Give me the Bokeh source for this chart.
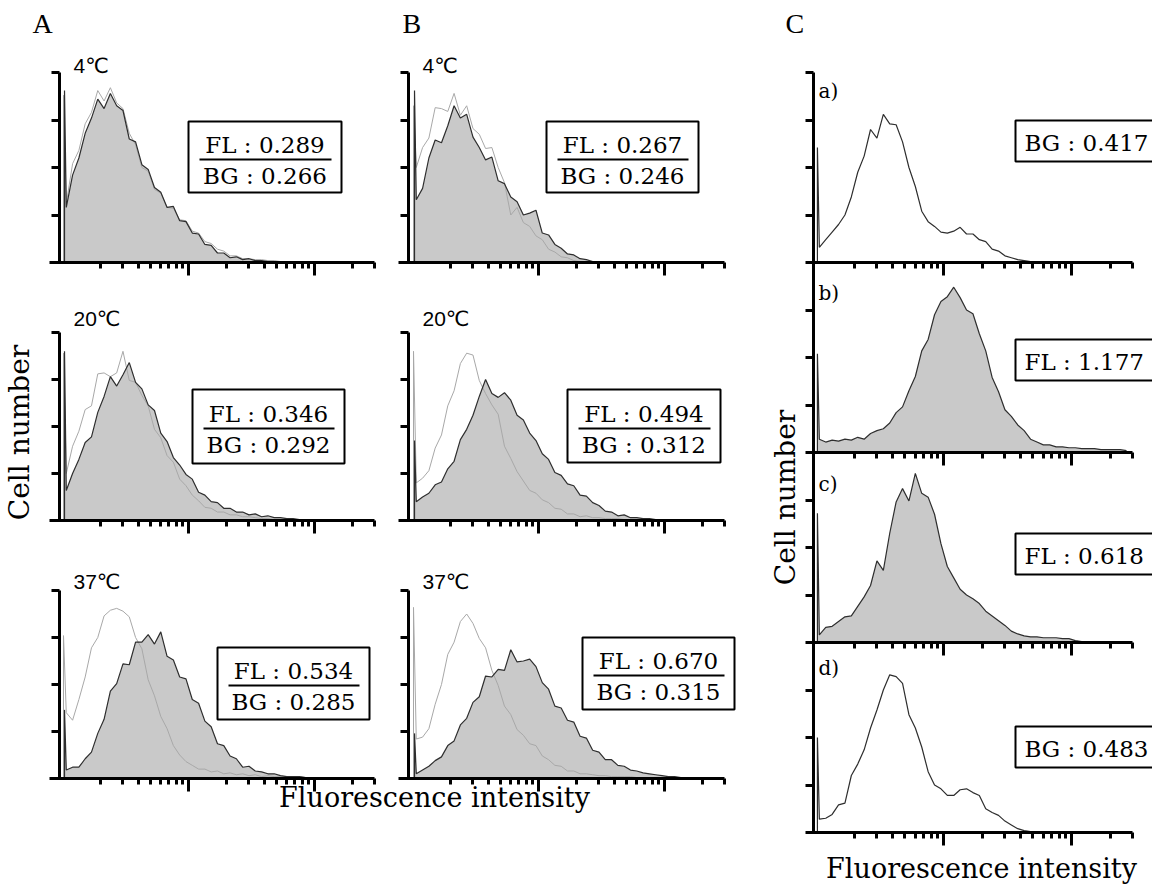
import numpy as np
from bokeh.plotting import figure
from bokeh.models import (Range1d, LinearAxis, LogAxis, FixedTicker, Label,
                          BoxAnnotation, LogScale)
from bokeh.embed import file_html
from bokeh.resources import INLINE

# ---------------- data ----------------
# channel grid: log10 of fluorescence intensity (decades)
LOG_FL = [0.03, 0.08, 0.13, 0.18, 0.23, 0.28, 0.33, 0.38, 0.43, 0.48,
          0.53, 0.58, 0.63, 0.68, 0.73, 0.78, 0.83, 0.88, 0.93, 0.98,
          1.03, 1.08, 1.13, 1.18, 1.23, 1.28, 1.33, 1.38, 1.43, 1.48,
          1.53, 1.58, 1.63, 1.68, 1.73, 1.78, 1.83, 1.88, 1.93, 1.98,
          2.03, 2.08, 2.13, 2.18, 2.23, 2.28, 2.33, 2.38, 2.43]
SPIKE_LOG_FL = 0.012   # first channel (debris spike)

# column A
A4_FL = [58, 92, 110, 136, 152, 172, 162, 178, 165, 160,
         130, 127, 103, 98, 79, 74, 58, 59, 44, 43,
         31, 30, 19, 18, 10, 10, 5, 6, 3, 4,
         2, 2, 1, 1, 0, 0, 0, 0, 0, 0,
         0, 0, 0, 0, 0, 0, 0, 0, 0]
A4_BG = [62, 104, 118, 146, 158, 181, 170, 184, 168, 162,
         136, 124, 100, 96, 77, 73, 58, 57, 45, 44,
         33, 31, 22, 20, 14, 12, 7, 7, 4, 4,
         3, 3, 2, 2, 1, 1, 0, 0, 0, 0,
         0, 0, 0, 0, 0, 0, 0, 0, 0]
A20_FL = [32, 50, 65, 83, 89, 115, 132, 153, 143, 155,
          168, 147, 140, 123, 117, 93, 84, 67, 59, 49,
          44, 30, 27, 20, 19, 13, 13, 9, 9, 6,
          7, 4, 5, 3, 3, 2, 2, 1, 1, 0,
          0, 0, 0, 0, 0, 0, 0, 0, 0]
A20_BG = [50, 79, 95, 118, 122, 156, 157, 153, 157, 180,
          149, 147, 133, 122, 97, 88, 69, 62, 44, 37,
          27, 21, 14, 13, 9, 9, 6, 6, 4, 4,
          3, 2, 2, 1, 1, 0, 0, 0, 0, 0,
          0, 0, 0, 0, 0, 0, 0, 0, 0]
A37_FL = [9, 12, 12, 21, 28, 48, 63, 93, 101, 122,
          121, 145, 145, 153, 143, 156, 130, 126, 108, 106,
          84, 80, 61, 55, 37, 35, 24, 21, 12, 13,
          8, 7, 5, 5, 3, 2, 2, 2, 1, 1,
          1, 0, 0, 0, 0, 0, 0, 0, 0]
A37_BG = [70, 62, 84, 108, 139, 150, 173, 179, 181, 178,
          172, 150, 138, 105, 88, 66, 53, 35, 25, 18,
          14, 10, 10, 7, 8, 5, 6, 4, 5, 3,
          4, 2, 3, 2, 2, 1, 2, 2, 1, 1,
          1, 1, 1, 1, 1, 1, 0, 0, 0]
# column B
B4_FL = [66, 78, 110, 129, 126, 144, 165, 152, 156, 132,
         121, 108, 111, 86, 83, 69, 64, 50, 52, 55,
         31, 29, 19, 15, 9, 8, 4, 3, 1, 1,
         0, 0, 0, 0, 0, 0, 0, 0, 0, 0,
         0, 0, 0, 0, 0, 0, 0, 0, 0]
B4_BG = [100, 121, 131, 163, 162, 159, 178, 155, 165, 141,
         135, 120, 121, 100, 84, 50, 58, 42, 38, 28,
         24, 14, 11, 6, 5, 2, 1, 0, 0, 0,
         0, 0, 0, 0, 0, 0, 0, 0, 0, 0,
         0, 0, 0, 0, 0, 0, 0, 0, 0]
B20_FL = [20, 25, 29, 38, 41, 55, 63, 86, 97, 112,
          132, 150, 135, 131, 136, 128, 112, 107, 93, 85,
          71, 65, 51, 48, 39, 37, 27, 26, 19, 16,
          10, 9, 5, 6, 3, 3, 2, 2, 1, 0,
          0, 0, 0, 0, 0, 0, 0, 0, 0]
B20_BG = [40, 45, 53, 77, 91, 122, 138, 167, 178, 176,
          149, 135, 123, 113, 79, 66, 52, 42, 32, 29,
          22, 19, 13, 12, 7, 7, 4, 5, 3, 3,
          2, 2, 2, 1, 1, 0, 0, 0, 0, 0,
          0, 0, 0, 0, 0, 0, 0, 0, 0]
B37_FL = [5, 9, 13, 19, 23, 35, 40, 57, 64, 81,
          87, 109, 108, 116, 115, 137, 124, 125, 127, 119,
          102, 95, 77, 75, 62, 60, 45, 43, 30, 28,
          20, 20, 14, 13, 9, 8, 6, 5, 4, 3,
          2, 2, 1, 0, 0, 0, 0, 0, 0]
B37_BG = [42, 44, 53, 79, 100, 132, 145, 167, 175, 165,
          149, 139, 115, 99, 77, 68, 52, 46, 37, 35,
          24, 20, 14, 13, 8, 8, 5, 5, 4, 3,
          3, 2, 2, 2, 2, 1, 1, 1, 0, 0,
          0, 0, 0, 0, 0, 0, 0, 0, 0]
# first-channel spikes (FL, BG)
SPIKES_A = [(181, 176), (180, 178), (73, 152)]
SPIKES_B = [(181, 165), (85, 180), (48, 182)]
TEMPS = ["4℃", "20℃", "37℃"]
RATIOS_A = [("FL : 0.289", "BG : 0.266"), ("FL : 0.346", "BG : 0.292"), ("FL : 0.534", "BG : 0.285")]
RATIOS_B = [("FL : 0.267", "BG : 0.246"), ("FL : 0.494", "BG : 0.312"), ("FL : 0.670", "BG : 0.315")]

# column C
C_A = [16, 24, 32, 40, 50, 69, 95, 112, 140, 131,
       156, 146, 145, 127, 100, 80, 54, 43, 38, 32,
       31, 33, 37, 30, 30, 24, 22, 14, 12, 7,
       5, 3, 2, 1, 1, 0, 0, 0, 0, 0,
       0, 0, 0, 0, 0, 0, 0, 0, 0]
C_B = [14, 11, 13, 12, 14, 13, 16, 14, 20, 23,
       25, 31, 42, 48, 65, 80, 107, 119, 145, 159,
       164, 174, 163, 150, 146, 125, 107, 79, 64, 45,
       38, 29, 23, 14, 11, 8, 8, 6, 6, 5,
       5, 4, 4, 4, 3, 3, 3, 3, 2]
C_C = [8, 16, 17, 22, 27, 28, 38, 48, 60, 86,
       76, 115, 148, 162, 149, 178, 157, 153, 135, 104,
       80, 68, 56, 50, 46, 41, 33, 28, 23, 18,
       12, 9, 7, 6, 6, 5, 5, 5, 4, 4,
       2, 1, 0, 0, 0, 0, 0, 0, 0]
C_D = [14, 15, 19, 29, 31, 60, 72, 87, 110, 129,
       150, 166, 164, 157, 124, 110, 90, 64, 50, 46,
       39, 39, 45, 46, 42, 39, 25, 21, 18, 12,
       8, 4, 2, 1, 0, 0, 0, 0, 0, 0,
       0, 0, 0, 0, 0, 0, 0, 0, 0]
C_SPIKES = [121, 104, 136, 100]
C_TAGS = ["a)", "b)", "c)", "d)"]
C_TEXT = ["BG : 0.417", "FL : 1.177", "FL : 0.618", "BG : 0.483"]
C_FILLED = [False, True, True, False]

X_MAJOR = [10, 100]
X_MINOR = [2, 3, 4, 5, 6, 7, 8, 9, 20, 30, 40, 50, 60, 70, 80, 90, 200, 300]
Y_TICKS = [0, 50, 100, 150, 200]

# ---------------- style / layout ----------------
FILL = "#c9c9c9"
DARK = "#2e2e2e"
LIGHT = "#a8a8a8"
SERIF = "DejaVu Serif"
TIMES = "Liberation Serif"
SANS = "Liberation Sans, DejaVu Sans, sans-serif"

W, H = 1152, 884
# pixel position of 10^0, pixels per decade, axis extent (log10) and y-axis location (log10)
COLS = {"A": (62, 126, -0.103, 2.48, -0.024),
        "B": (412, 126, -0.111, 2.48, -0.032),
        "C": (815, 128, -0.070, 2.48, -0.016)}
# baseline pixel row, top pixel row (count 200)
ROWS = {"r0": (262, 72), "r1": (520, 332), "r2": (778, 590),
        "ca": (262, 72), "cb": (452, 262), "cc": (642, 452), "cd": (832, 642)}

p = figure(width=W, height=H, x_range=Range1d(0, W), y_range=Range1d(0, H),
           min_border_left=0, min_border_right=0, min_border_top=0, min_border_bottom=0,
           x_axis_location=None, y_axis_location=None,
           output_backend="svg", toolbar_location=None)
p.grid.visible = False
p.outline_line_color = None

p.extra_x_ranges = {k: Range1d(10 ** (-o / d), 10 ** ((W - o) / d)) for k, (o, d, *_r) in COLS.items()}
p.extra_x_scales = {k: LogScale() for k in COLS}
p.extra_y_ranges = {k: Range1d((yb - H) * 200 / (yb - yt), yb * 200 / (yb - yt))
                    for k, (yb, yt) in ROWS.items()}


def curve(counts, spike, spike_log=SPIKE_LOG_FL):
    x = 10 ** np.array([spike_log, spike_log] + LOG_FL)
    y = np.array([0, spike] + list(counts), dtype=float)
    return x, y


def add_x_axis(col, rname):
    o, d, xs, xe, yl = COLS[col]
    ax = LogAxis(x_range_name=col, y_range_name=rname, fixed_location=0,
                 bounds=(10 ** xs, 10 ** xe),
                 ticker=FixedTicker(ticks=X_MAJOR, minor_ticks=X_MINOR))
    ax.major_label_overrides = {t: "" for t in X_MAJOR}
    ax.axis_line_width = 3
    ax.axis_line_color = "black"
    ax.major_tick_line_width = 3
    ax.major_tick_out = 13
    ax.major_tick_in = 0
    ax.minor_tick_line_width = 3
    ax.minor_tick_out = 6
    ax.minor_tick_in = 0
    p.add_layout(ax, "below")


def add_y_axis(col, rname, ticks):
    o, d, xs, xe, yl = COLS[col]
    ax = LinearAxis(x_range_name=col, y_range_name=rname, fixed_location=10 ** yl,
                    bounds=(ticks[0], ticks[-1]), ticker=FixedTicker(ticks=ticks))
    ax.major_label_overrides = {t: "" for t in ticks}
    ax.axis_line_width = 3
    ax.axis_line_color = "black"
    ax.major_tick_line_width = 3
    ax.major_tick_out = 8
    ax.major_tick_in = 0
    p.add_layout(ax, "left")


def text(X, Y, s, size, font, align="left", angle=0.0):
    # (X, Y): pixel position of the text's left/centre edge and vertical middle
    p.add_layout(Label(x=X, y=H - Y, x_units="screen", y_units="screen", text=s,
                       text_font=font, text_font_size=f"{size}px", text_color="black",
                       text_align=align, text_baseline="middle", angle=angle))


def rect(L, T, R, B, fill="white", line="black", lw=2):
    p.add_layout(BoxAnnotation(left=L, right=R, top=H - T, bottom=H - B,
                               left_units="screen", right_units="screen",
                               top_units="screen", bottom_units="screen",
                               fill_color=fill, fill_alpha=1,
                               line_color=line, line_width=lw, line_alpha=1 if line else 0))


# ---------------- columns A and B ----------------
DATA = {"A": [(A4_FL, A4_BG), (A20_FL, A20_BG), (A37_FL, A37_BG)],
        "B": [(B4_FL, B4_BG), (B20_FL, B20_BG), (B37_FL, B37_BG)]}
SPIKES = {"A": SPIKES_A, "B": SPIKES_B}
RATIOS = {"A": RATIOS_A, "B": RATIOS_B}
BOXES = {"A": [(188, 121, 341, 192), (192, 389, 344, 463), (217, 647, 369, 719)],
         "B": [(546, 121, 698, 192), (567, 389, 720, 462), (582, 637, 734, 709)]}
TEMP_X = {"A": 73, "B": 422}
TEMP_MID = [65, 318, 581]

for col in ["A", "B"]:
    for ri in range(3):
        rname = f"r{ri}"
        fl_counts, bg_counts = DATA[col][ri]
        sp_fl, sp_bg = SPIKES[col][ri]
        xf, yf = curve(fl_counts, sp_fl, SPIKE_LOG_FL + 0.004)
        xb, yb = curve(bg_counts, sp_bg, SPIKE_LOG_FL - 0.004)
        kw = dict(x_range_name=col, y_range_name=rname)
        p.varea(x=xf, y1=0, y2=yf, fill_color=FILL, **kw)
        p.line(xb, yb, line_color=LIGHT, line_width=1.0, **kw)
        p.line(xf, yf, line_color=DARK, line_width=1.2, **kw)
        add_x_axis(col, rname)
        add_y_axis(col, rname, Y_TICKS)
        text(TEMP_X[col], TEMP_MID[ri], TEMPS[ri], 21, SANS)
        L, T, R, B = BOXES[col][ri]
        rule = T + round(0.53 * (B - T))
        rect(L, T, R, B)
        rect(L + 11, rule - 1, R - 10, rule + 1, fill="black", line=None, lw=0)
        top_txt, bot_txt = RATIOS[col][ri]
        text((L + R) / 2, rule - 15, top_txt, 23, SERIF, align="center")
        text((L + R) / 2, rule + 16, bot_txt, 23, SERIF, align="center")

text(32, 23, "A", 28, TIMES)
text(402, 23, "B", 28, TIMES)
text(19, 432, "Cell number", 28, SERIF, align="center", angle=np.pi / 2)
text(434, 797, "Fluorescence intensity", 27, SERIF, align="center")

# ---------------- column C ----------------
C_DATA = [C_A, C_B, C_C, C_D]
C_ROWS = ["ca", "cb", "cc", "cd"]
C_BOX_T = [120, 339, 533, 726]
C_TAG_POS = [(818, 90), (818, 292), (818, 483), (818, 667)]
for k, rname in enumerate(C_ROWS):
    x, y = curve(C_DATA[k], C_SPIKES[k], 0.015)
    kw = dict(x_range_name="C", y_range_name=rname)
    if C_FILLED[k]:
        p.varea(x=x, y1=0, y2=y, fill_color=FILL, **kw)
    p.line(x, y, line_color=DARK, line_width=1.2, **kw)
    add_x_axis("C", rname)
add_y_axis("C", "cd", list(range(0, 801, 50)))
for k in range(4):
    T = C_BOX_T[k]
    rect(1015, T, 1170, T + 41)
    text(1024, T + 22, C_TEXT[k], 23, SERIF)
    tx, ty = C_TAG_POS[k]
    text(tx, ty, C_TAGS[k], 20, SERIF)
text(785, 23, "C", 28, TIMES)
text(785, 497, "Cell number", 28, SERIF, align="center", angle=np.pi / 2)
text(981, 868, "Fluorescence intensity", 27, SERIF, align="center")

open("out.html", "w").write(file_html(p, INLINE))
